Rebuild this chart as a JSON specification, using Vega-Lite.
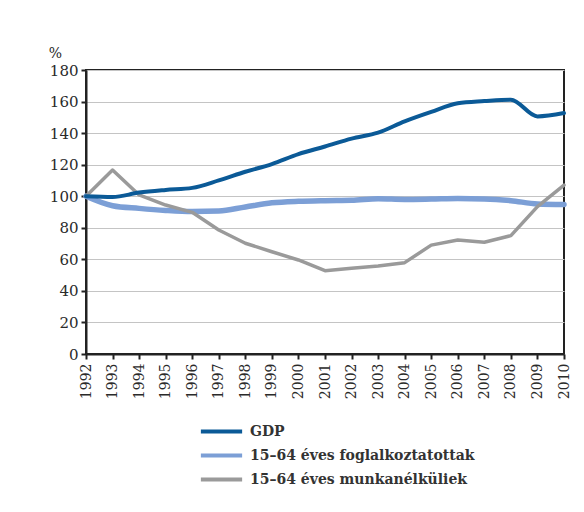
{
  "$schema": "https://vega.github.io/schema/vega-lite/v6.json",
  "width": 478,
  "height": 284,
  "autosize": {"type": "none"},
  "padding": {"left": 86, "top": 70, "right": 20, "bottom": 158},
  "background": "white",
  "config": {"view": {"stroke": "#222", "strokeWidth": 2}, "font": "DejaVu Serif"},
  "data": {"values": [
    {"year": 1992, "series": "GDP", "value": 100},
    {"year": 1993, "series": "GDP", "value": 99.5},
    {"year": 1994, "series": "GDP", "value": 102.3},
    {"year": 1995, "series": "GDP", "value": 104},
    {"year": 1996, "series": "GDP", "value": 105.3},
    {"year": 1997, "series": "GDP", "value": 110},
    {"year": 1998, "series": "GDP", "value": 115.5},
    {"year": 1999, "series": "GDP", "value": 120.4},
    {"year": 2000, "series": "GDP", "value": 126.7},
    {"year": 2001, "series": "GDP", "value": 131.5},
    {"year": 2002, "series": "GDP", "value": 136.5},
    {"year": 2003, "series": "GDP", "value": 140.3},
    {"year": 2004, "series": "GDP", "value": 147.5},
    {"year": 2005, "series": "GDP", "value": 153.5},
    {"year": 2006, "series": "GDP", "value": 158.9},
    {"year": 2007, "series": "GDP", "value": 160.3},
    {"year": 2008, "series": "GDP", "value": 161.2},
    {"year": 2009, "series": "GDP", "value": 150.6},
    {"year": 2010, "series": "GDP", "value": 152.7},
    {"year": 1992, "series": "15–64 éves foglalkoztatottak", "value": 100},
    {"year": 1993, "series": "15–64 éves foglalkoztatottak", "value": 94},
    {"year": 1994, "series": "15–64 éves foglalkoztatottak", "value": 92.3},
    {"year": 1995, "series": "15–64 éves foglalkoztatottak", "value": 91},
    {"year": 1996, "series": "15–64 éves foglalkoztatottak", "value": 90.3},
    {"year": 1997, "series": "15–64 éves foglalkoztatottak", "value": 90.6},
    {"year": 1998, "series": "15–64 éves foglalkoztatottak", "value": 93.2},
    {"year": 1999, "series": "15–64 éves foglalkoztatottak", "value": 95.8},
    {"year": 2000, "series": "15–64 éves foglalkoztatottak", "value": 96.8},
    {"year": 2001, "series": "15–64 éves foglalkoztatottak", "value": 97.2},
    {"year": 2002, "series": "15–64 éves foglalkoztatottak", "value": 97.4},
    {"year": 2003, "series": "15–64 éves foglalkoztatottak", "value": 98.4},
    {"year": 2004, "series": "15–64 éves foglalkoztatottak", "value": 98},
    {"year": 2005, "series": "15–64 éves foglalkoztatottak", "value": 98.2},
    {"year": 2006, "series": "15–64 éves foglalkoztatottak", "value": 98.5},
    {"year": 2007, "series": "15–64 éves foglalkoztatottak", "value": 98.3},
    {"year": 2008, "series": "15–64 éves foglalkoztatottak", "value": 97.2},
    {"year": 2009, "series": "15–64 éves foglalkoztatottak", "value": 95.1},
    {"year": 2010, "series": "15–64 éves foglalkoztatottak", "value": 94.8},
    {"year": 1992, "series": "15–64 éves munkanélküliek", "value": 100},
    {"year": 1993, "series": "15–64 éves munkanélküliek", "value": 116.6},
    {"year": 1994, "series": "15–64 éves munkanélküliek", "value": 100.8},
    {"year": 1995, "series": "15–64 éves munkanélküliek", "value": 94.4},
    {"year": 1996, "series": "15–64 éves munkanélküliek", "value": 89.8},
    {"year": 1997, "series": "15–64 éves munkanélküliek", "value": 78.6},
    {"year": 1998, "series": "15–64 éves munkanélküliek", "value": 70.2},
    {"year": 1999, "series": "15–64 éves munkanélküliek", "value": 64.8},
    {"year": 2000, "series": "15–64 éves munkanélküliek", "value": 59.6},
    {"year": 2001, "series": "15–64 éves munkanélküliek", "value": 52.8},
    {"year": 2002, "series": "15–64 éves munkanélküliek", "value": 54.3},
    {"year": 2003, "series": "15–64 éves munkanélküliek", "value": 55.8},
    {"year": 2004, "series": "15–64 éves munkanélküliek", "value": 57.9},
    {"year": 2005, "series": "15–64 éves munkanélküliek", "value": 69},
    {"year": 2006, "series": "15–64 éves munkanélküliek", "value": 72.2},
    {"year": 2007, "series": "15–64 éves munkanélküliek", "value": 70.8},
    {"year": 2008, "series": "15–64 éves munkanélküliek", "value": 75},
    {"year": 2009, "series": "15–64 éves munkanélküliek", "value": 93.4},
    {"year": 2010, "series": "15–64 éves munkanélküliek", "value": 107}
  ]},
  "encoding": {
    "x": {
      "field": "year", "type": "quantitative",
      "scale": {"domain": [1992, 2010], "nice": false, "zero": false},
      "axis": {
        "values": [1992,1993,1994,1995,1996,1997,1998,1999,2000,2001,2002,2003,2004,2005,2006,2007,2008,2009,2010],
        "format": "d", "labelAngle": -90, "grid": false, "title": null,
        "domainColor": "#222", "domainWidth": 2, "tickColor": "#222", "tickWidth": 2, "tickSize": 5,
        "labelFont": "DejaVu Serif", "labelFontSize": 14, "labelColor": "#2a2a2a", "labelPadding": 4,
        "labelFlush": false, "labelOverlap": false
      }
    },
    "y": {
      "field": "value", "type": "quantitative",
      "scale": {"domain": [0, 180], "nice": false},
      "axis": {
        "values": [0,20,40,60,80,100,120,140,160,180],
        "grid": true, "gridColor": "#c4c4c4", "gridWidth": 1.2,
        "domainColor": "#222", "domainWidth": 2, "tickColor": "#222", "tickWidth": 2, "tickSize": 5,
        "labelFont": "DejaVu Serif", "labelFontSize": 15, "labelColor": "#2a2a2a", "labelPadding": 3,
        "title": "%", "titleAngle": 0, "titleX": -31, "titleY": -10, "titleAlign": "center", "titleBaseline": "bottom",
        "titleFont": "DejaVu Serif", "titleFontSize": 14, "titleFontWeight": "normal", "titleColor": "#2a2a2a"
      }
    },
    "color": {
      "field": "series", "type": "nominal",
      "scale": {
        "domain": ["GDP", "15–64 éves foglalkoztatottak", "15–64 éves munkanélküliek"],
        "range": ["#0b5a97", "#7c9fd6", "#9a9a9a"]
      },
      "legend": {
        "orient": "none", "legendX": 121, "legendY": 347, "direction": "vertical", "title": null,
        "symbolType": "M-1.65,0H1.65", "symbolSize": 625, "symbolStrokeWidth": 4, "symbolFillColor": "transparent",
        "labelFont": "DejaVu Serif", "labelFontSize": 14, "labelFontWeight": "bold", "labelColor": "#333", "labelOffset": 14,
        "labelLimit": 0, "rowPadding": 1
      }
    }
  },
  "layer": [
    {
      "transform": [{"filter": "datum.series === '15–64 éves foglalkoztatottak'"}],
      "mark": {"type": "line", "interpolate": "monotone", "strokeWidth": 5.5, "strokeCap": "round"}
    },
    {
      "transform": [{"filter": "datum.series === '15–64 éves munkanélküliek'"}],
      "mark": {"type": "line", "interpolate": "linear", "strokeWidth": 3.5, "strokeJoin": "round", "strokeCap": "round"}
    },
    {
      "transform": [{"filter": "datum.series === 'GDP'"}],
      "mark": {"type": "line", "interpolate": "monotone", "strokeWidth": 4, "strokeCap": "round"}
    }
  ]
}
